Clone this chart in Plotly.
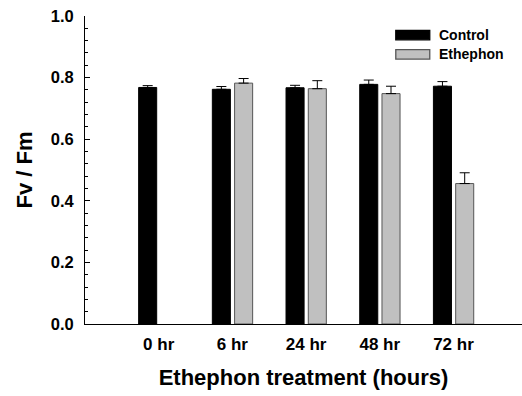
import plotly.graph_objects as go

categories = ["0 hr", "6 hr", "24 hr", "48 hr", "72 hr"]
control = [0.768, 0.762, 0.767, 0.778, 0.772]
control_err = [0.006, 0.009, 0.008, 0.014, 0.015]
ethephon = [None, 0.782, 0.764, 0.748, 0.456]
ethephon_err = [None, 0.015, 0.026, 0.024, 0.035]
y_ticks = [0.0, 0.2, 0.4, 0.6, 0.8, 1.0]
y_tick_labels = ["0.0", "0.2", "0.4", "0.6", "0.8", "1.0"]

FONT = "Liberation Sans, Arial, sans-serif"

fig = go.Figure()
fig.add_trace(go.Bar(
    x=categories, y=control, name="Control",
    width=0.245, offset=-0.272,
    marker=dict(color="black", line=dict(color="black", width=1)),
    error_y=dict(type="data", array=control_err, arrayminus=[0]*5, symmetric=False,
                 color="black", thickness=1, width=5),
    showlegend=False,
))
fig.add_trace(go.Bar(
    x=categories, y=ethephon, name="Ethephon",
    width=0.245, offset=0.03,
    marker=dict(color="#c0c0c0", line=dict(color="#555555", width=1)),
    error_y=dict(type="data", array=ethephon_err, arrayminus=[0]*5, symmetric=False,
                 color="black", thickness=1, width=5),
    showlegend=False,
))

# custom legend (wide swatches)
legend_items = [("Control", "black", "black"), ("Ethephon", "#c0c0c0", "#555555")]
for i, (name, fill, edge) in enumerate(legend_items):
    y0 = 30 + i * 19.3
    fig.add_shape(type="rect", xref="paper", yref="paper",
                  x0=(395.7 - 84.7) / 437.3, x1=(429.7 - 84.7) / 437.3,
                  y0=(324 - (y0 + 9.5)) / 308.3, y1=(324 - y0) / 308.3,
                  fillcolor=fill, line=dict(color=edge, width=1.3))
    fig.add_annotation(xref="paper", yref="paper",
                       x=(436.5 - 84.7) / 437.3, y=(324 - (y0 + 4.8)) / 308.3,
                       text=name, showarrow=False, xanchor="left", yanchor="middle",
                       font=dict(family=FONT, size=14, color="black", weight="bold"))

fig.update_layout(
    width=522, height=396,
    margin=dict(l=84.7, r=0, t=15.7, b=72),
    plot_bgcolor="white", paper_bgcolor="white",
    barmode="overlay",
    font=dict(family=FONT, color="black"),
    xaxis=dict(
        range=[-1, 4.93], showline=True, linecolor="black", linewidth=1,
        ticks="", showgrid=False, zeroline=False,
        tickfont=dict(family=FONT, size=17, color="black", weight="bold"),
        ticklabelstandoff=5,
        title=dict(text="Ethephon treatment (hours)", standoff=16,
                   font=dict(family=FONT, size=22, color="black", weight="bold")),
    ),
    yaxis=dict(
        range=[0, 1], showline=True, linecolor="black", linewidth=1,
        tickvals=y_ticks, ticktext=y_tick_labels,
        ticks="inside", ticklen=5, tickcolor="black", tickwidth=1,
        minor=dict(dtick=0.04, ticks="inside", ticklen=3, tickcolor="black", tickwidth=1, showgrid=False),
        showgrid=False, zeroline=False,
        tickfont=dict(family=FONT, size=16.5, color="black", weight="bold"),
        ticklabelstandoff=7,
        title=dict(text="Fv / Fm", standoff=12,
                   font=dict(family=FONT, size=22, color="black", weight="bold")),
    ),
)

fig.write_html("out.html")
